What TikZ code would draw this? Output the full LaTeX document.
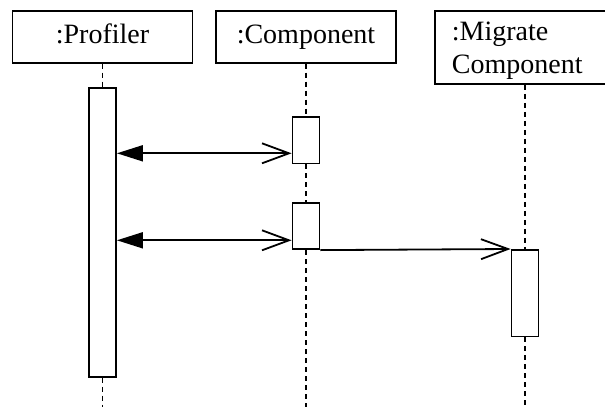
\documentclass[tikz,border=0pt]{standalone}
\usepackage{fontspec}
\setmainfont{Liberation Serif}
\usetikzlibrary{positioning,arrows.meta}

\begin{document}
\begin{tikzpicture}[
  x=0.5pt, y=-0.5pt,
  head/.style={rectangle, draw, line width=0.9pt, minimum width=90pt,
    minimum height=26pt, inner sep=0pt, font=\fontsize{14}{16.5}\selectfont,
    text height=9.6pt, text depth=3pt},
  act/.style={rectangle, draw, fill=white, line width=0.9pt,
    minimum width=13.5pt, inner sep=0pt, anchor=north},
  life/.style={dash pattern=on 2.5pt off 2pt, line width=0.65pt},
  call/.style={-{Straight Barb[length=13.5pt,width=10pt]}, line width=0.9pt},
  sync/.style={{Triangle[length=13pt,width=8pt]}-{Straight Barb[length=13.5pt,width=10pt]},
    line width=0.9pt}
]
\useasboundingbox (0,0) rectangle (605,407);

% Heads
\node[head] (prof) at (102.5,36.7) {:Profiler};
\node[head] (comp) at (306,36.7) {:Component};
\node[head, anchor=north west, minimum width=86pt, minimum height=36.5pt,
  text width=69pt, align=left, inner xsep=8.5pt, text height=9.3pt,
  text depth=16.5pt] (mig) at (434,10) {:Migrate\\Component};

% Activations
\node[act, minimum height=144.2pt] (profAct) at (102.5,87.3) {};
\node[act, minimum height=23.3pt] (compAct1) at (306,116) {};
\node[act, minimum height=23pt] (compAct2) at (306,202.3) {};
\node[act, minimum height=43.3pt] (migAct) at (525,249) {};

% Lifelines
\coordinate (bot) at (0,407);
\draw[life] (prof.south) -- (profAct.north);
\draw[life] (profAct.south) -- (profAct.south |- bot);
\draw[life] (comp.south) -- (compAct1.north);
\draw[life] (compAct1.south) -- (compAct2.north);
\draw[life] (compAct2.south) -- (compAct2.south |- bot);
\draw[life] (migAct.north |- mig.south) -- (migAct.north);
\draw[life] (migAct.south) -- (migAct.south |- bot);

% Messages
\coordinate (m1) at (0,153.3);
\coordinate (m2) at (0,240.3);
\draw[sync] (profAct.east |- m1) -- (compAct1.west |- m1);
\draw[sync] (profAct.east |- m2) -- (compAct2.west |- m2);
\draw[call] (compAct2.south east) -- (migAct.north west);

\end{tikzpicture}
\end{document}
